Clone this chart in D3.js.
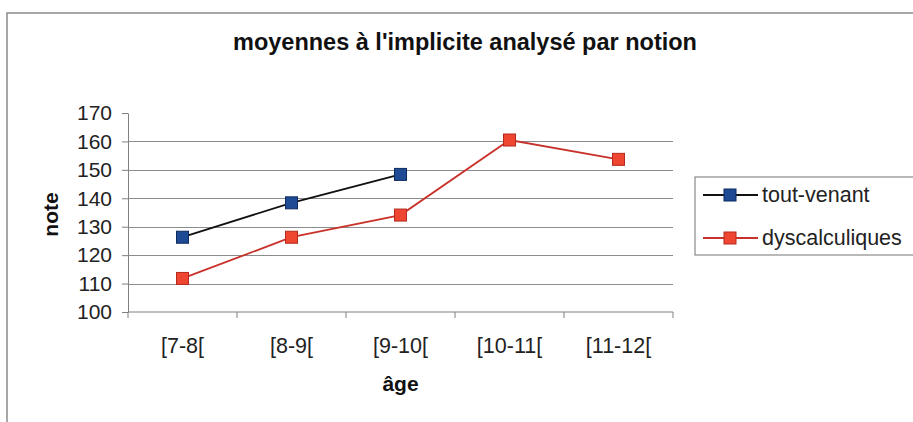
<!DOCTYPE html>
<html><head><meta charset="utf-8">
<script src="https://cdn.jsdelivr.net/npm/d3@7"></script>
<style>
html,body{margin:0;padding:0;background:#fff;}
svg{display:block;font-family:"Liberation Sans",Arial,sans-serif;}
</style></head>
<body><svg id="c" width="913" height="422"></svg>
<script>
const categories = ["[7-8[", "[8-9[", "[9-10[", "[10-11[", "[11-12["];
const toutVenant = [126.3, 138.4, 148.4, null, null];
const dyscalculiques = [111.8, 126.3, 134.1, 160.5, 153.7];
const yTicks = [100, 110, 120, 130, 140, 150, 160, 170];
const seriesNames = ["tout-venant", "dyscalculiques"];
const title = "moyennes à l'implicite analysé par notion";

const svg = d3.select("#c");
const x = d3.scaleBand().domain(categories).range([128, 673]).padding(0);
const y = d3.scaleLinear().domain([100, 170]).range([312, 113]);

// frame
svg.append("path").attr("d","M7,430 V13 H920").attr("fill","none").attr("stroke","#8a8a8a").attr("stroke-width",1.5);

svg.append("text").attr("x",465).attr("y",50).attr("text-anchor","middle")
  .attr("font-size",23.5).attr("font-weight","bold").attr("fill","#111").text(title);

// gridlines
svg.append("g").selectAll("line").data(yTicks.filter(t=>t>100 && t<170)).join("line")
  .attr("x1",x.range()[0]).attr("x2",x.range()[1])
  .attr("y1",d=>Math.round(y(d))+0.5).attr("y2",d=>Math.round(y(d))+0.5)
  .attr("stroke","#8c8c8c").attr("stroke-width",1);

// y axis
const yAxis = svg.append("g").attr("transform",`translate(${x.range()[0]},0)`)
  .call(d3.axisLeft(y).tickValues(yTicks).tickSize(6).tickPadding(10).tickSizeOuter(0));
yAxis.select(".domain").attr("stroke","#808080");
yAxis.selectAll(".tick line").attr("stroke","#808080");
yAxis.selectAll("text").attr("font-size",21).attr("fill","#222").attr("font-family","Liberation Sans, Arial, sans-serif");

// x axis
const xb = d3.range(categories.length+1).map(i => i < categories.length ? x(categories[i]) : x.range()[1]);
svg.append("line").attr("x1",x.range()[0]).attr("x2",x.range()[1]).attr("y1",y(100)).attr("y2",y(100)).attr("stroke","#808080");
svg.append("g").selectAll("line").data(xb).join("line")
  .attr("x1",d=>d).attr("x2",d=>d).attr("y1",y(100)).attr("y2",y(100)+6).attr("stroke","#808080");
svg.append("g").selectAll("text").data(categories).join("text")
  .attr("x",d=>x(d)+x.bandwidth()/2).attr("y",353).attr("text-anchor","middle")
  .attr("font-size",21.5).attr("fill","#222").text(d=>d);

svg.append("text").attr("x",(x.range()[0]+x.range()[1])/2).attr("y",391).attr("text-anchor","middle")
  .attr("font-size",21).attr("font-weight","bold").attr("fill","#111").text("âge");
svg.append("text").attr("transform",`translate(58,${(y(100)+y(170))/2+2}) rotate(-90)`).attr("text-anchor","middle")
  .attr("font-size",21).attr("font-weight","bold").attr("fill","#111").text("note");

const series = [
  {name:seriesNames[0], values:toutVenant, line:"#111111", fill:"#1f4a94", stroke:"#0d2a5e"},
  {name:seriesNames[1], values:dyscalculiques, line:"#c8322a", fill:"#ee4630", stroke:"#b52a1c"}
];
const cx = c => x(c)+x.bandwidth()/2;
const line = d3.line().defined(d=>d.v!=null).x(d=>cx(d.c)).y(d=>y(d.v));
const ms = 12;
series.forEach(s=>{
  const pts = categories.map((c,i)=>({c, v:s.values[i]}));
  svg.append("path").datum(pts).attr("d",line).attr("fill","none").attr("stroke",s.line).attr("stroke-width",1.8);
  svg.append("g").selectAll("rect").data(pts.filter(p=>p.v!=null)).join("rect")
    .attr("x",d=>cx(d.c)-ms/2).attr("y",d=>y(d.v)-ms/2).attr("width",ms).attr("height",ms)
    .attr("fill",s.fill).attr("stroke",s.stroke).attr("stroke-width",1);
});

// legend
const lg = svg.append("g");
lg.append("rect").attr("x",695).attr("y",177).attr("width",240).attr("height",78)
  .attr("fill","#fff").attr("stroke","#8a8a8a").attr("stroke-width",1.2);
series.forEach((s,i)=>{
  const ly = 195 + i*43;
  lg.append("line").attr("x1",703).attr("x2",758).attr("y1",ly).attr("y2",ly).attr("stroke",s.line).attr("stroke-width",1.8);
  lg.append("rect").attr("x",730-ms/2).attr("y",ly-ms/2).attr("width",ms).attr("height",ms)
    .attr("fill",s.fill).attr("stroke",s.stroke);
  lg.append("text").attr("x",762).attr("y",ly+7).attr("font-size",21.5).attr("fill","#222").text(s.name);
});
</script></body></html>
